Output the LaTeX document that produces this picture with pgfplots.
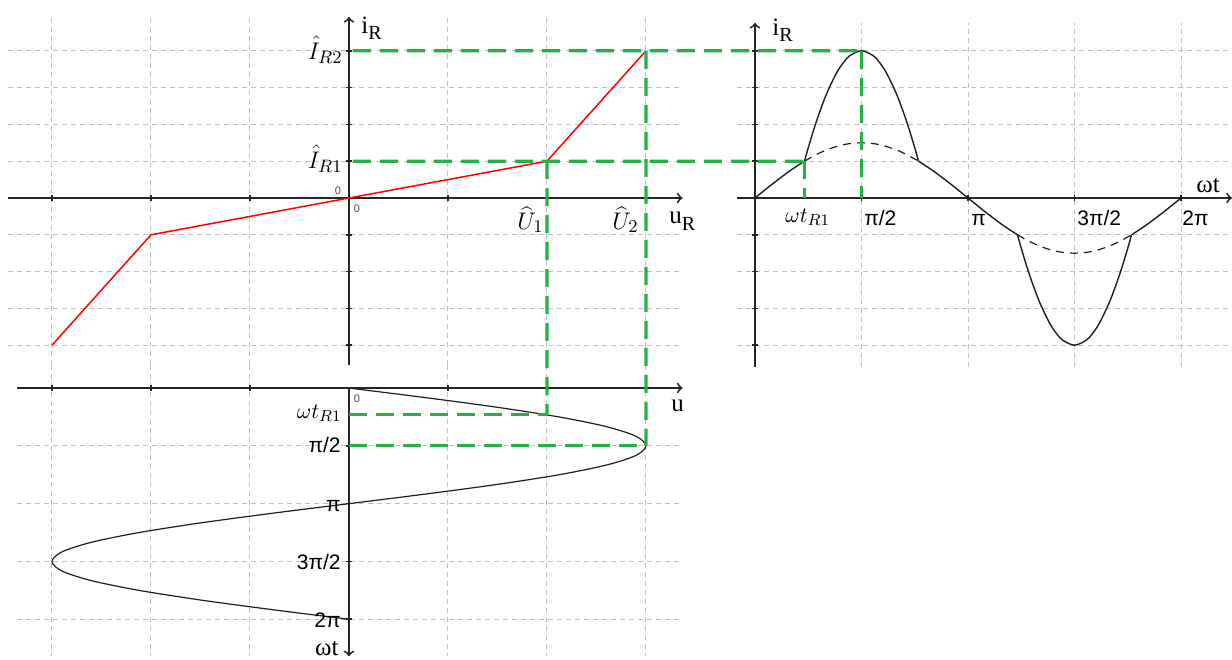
\documentclass[border=0pt]{standalone}
\usepackage{fontspec}
\setmainfont{Liberation Serif}
\setsansfont{Liberation Sans}
\usepackage{pgfplots}
\pgfplotsset{compat=1.18}

\definecolor{ggreen}{RGB}{38,176,72}
\definecolor{gridgray}{RGB}{192,192,192}
\definecolor{curve}{RGB}{30,30,30}

\pgfplotsset{
  panel/.style={
    axis lines=middle,
    enlargelimits=false,
    axis line style={->, line width=0.95pt, black!85},
    xticklabels={}, yticklabels={},
    tick align=center, major tick length=3pt,
    tick style={line width=0.8pt, black!85},
    grid=major,
    major grid style={gridgray, line width=0.5pt, dash pattern=on 2.5pt off 2pt},
    clip=false,
  },
}

\begin{document}
\begin{tikzpicture}
\useasboundingbox (0,0) rectangle (616pt,-329.5pt);

% characteristic i_R(u_R)
\begin{axis}[panel, at={(172.75pt,-95.5pt)}, anchor=center,
    x=49.5pt, y=18.4pt,
    xmin=-3.44, xmax=3.37, ymin=-4.54, ymax=4.92,
    xtick={-3,-2,-1,1,2,3}, ytick={-4,-3,-2,-1,1,2,3,4}]
  \addplot[red, line width=0.75pt] coordinates {
    (-3,-4) (-2,-1) (0,0) (2,1) (3,4)};
  \coordinate (L4) at (axis cs:0.04,4);
  \coordinate (L1) at (axis cs:0.04,1);
  \coordinate (U1) at (axis cs:2,1);
  \coordinate (U2) at (axis cs:3,4);
\end{axis}

% i_R(wt)
\begin{axis}[panel, at={(492.25pt,-97.43pt)}, anchor=center,
    x=33.9pt, y=18.4pt,
    xmin=-0.265, xmax=7.035, ymin=-4.59, ymax=4.76,
    xtick={1.5708,3.1416,4.7124,6.2832}, ytick={-4,-3,-2,-1,1,2,3,4}]
  \addplot[curve, line width=0.7pt, smooth] coordinates {
    (0,0) (0.2618,0.3882) (0.5236,0.75) (0.7297,1.0)};
  \addplot[curve, line width=0.7pt, smooth] coordinates {
    (0.7297,1.0) (0.7854,1.364) (0.9,2.050) (1.0472,2.794) (1.2,3.388)
    (1.309,3.693) (1.4,3.869) (1.5708,4.0) (1.7416,3.869) (1.8326,3.693)
    (1.9416,3.388) (2.0944,2.794) (2.2416,2.050) (2.3562,1.364) (2.4119,1.0)};
  \addplot[curve, line width=0.7pt, smooth] coordinates {
    (2.4119,1.0) (2.618,0.75) (2.8798,0.3882) (3.1416,0) (3.4034,-0.3882)
    (3.6652,-0.75) (3.8713,-1.0)};
  \addplot[curve, line width=0.7pt, smooth] coordinates {
    (3.8713,-1.0) (3.9270,-1.364) (4.0416,-2.050) (4.1888,-2.794) (4.3416,-3.388)
    (4.4506,-3.693) (4.5416,-3.869) (4.7124,-4.0) (4.8832,-3.869) (4.9742,-3.693)
    (5.0832,-3.388) (5.2360,-2.794) (5.3832,-2.050) (5.4978,-1.364) (5.5535,-1.0)};
  \addplot[curve, line width=0.7pt, smooth] coordinates {
    (5.5535,-1.0) (5.7596,-0.75) (6.0214,-0.3882) (6.2832,0)};
  % linear continuation (dashed)
  \addplot[curve, line width=0.6pt, smooth, dash pattern=on 4pt off 3pt] coordinates {
    (0.7297,1.0) (0.9,1.175) (1.0472,1.299) (1.2,1.398) (1.309,1.449) (1.4,1.478)
    (1.5708,1.5) (1.7416,1.478) (1.8326,1.449) (1.9416,1.398) (2.0944,1.299)
    (2.2416,1.175) (2.4119,1.0)};
  \addplot[curve, line width=0.6pt, smooth, dash pattern=on 4pt off 3pt] coordinates {
    (3.8713,-1.0) (4.0416,-1.175) (4.1888,-1.299) (4.3416,-1.398) (4.4506,-1.449)
    (4.5416,-1.478) (4.7124,-1.5) (4.8832,-1.478) (4.9742,-1.449) (5.0832,-1.398)
    (5.2360,-1.299) (5.3832,-1.175) (5.5535,-1.0)};
  \coordinate (RP) at (axis cs:1.5708,4);
  \coordinate (RP0) at (axis cs:1.5708,0);
  \coordinate (RT) at (axis cs:0.7297,1);
  \coordinate (RT0) at (axis cs:0.7297,0);
\end{axis}

% u(wt), time running downwards
\begin{axis}[panel, at={(174.98pt,-255.38pt)}, anchor=center,
    x=49.5pt, y=18.4pt, y dir=reverse,
    y axis line style={draw=none},
    xmin=-3.35, xmax=3.37, ymin=-0.62, ymax=7.29,
    xtick={-3,-2,-1,1,2,3}, ytick={1.5708,3.1416,4.7124,6.2832}]
  \draw[->, line width=0.95pt, black!85] (axis cs:0,0) -- (axis cs:0,7.29);
  \addplot[curve, line width=0.6pt, smooth] coordinates {
    (0,0) (0.7765,0.2618) (1.5,0.5236) (2.1213,0.7854) (2.5981,1.0472)
    (2.8978,1.3090) (3,1.5708) (2.8978,1.8326) (2.5981,2.0944) (2.1213,2.3562)
    (1.5,2.6180) (0.7765,2.8798) (0,3.1416) (-0.7765,3.4034) (-1.5,3.6652)
    (-2.1213,3.9270) (-2.5981,4.1888) (-2.8978,4.4506) (-3,4.7124)
    (-2.8978,4.9742) (-2.5981,5.2360) (-2.1213,5.4978) (-1.5,5.7596)
    (-0.7765,6.0214) (0,6.2832)};
  \coordinate (B1) at (axis cs:2,0.7297);
  \coordinate (B10) at (axis cs:0,0.7297);
  \coordinate (B2) at (axis cs:3,1.5708);
  \coordinate (B20) at (axis cs:0,1.5708);
\end{axis}

% projection lines
\begin{scope}[ggreen, line width=1.6pt, dash pattern=on 9pt off 4.5pt]
  \draw (L4) -- (RP);
  \draw (RP) -- (RP0);
  \draw (L1) -- (RT);
  \draw (RT) -- (RT0);
  \draw (U1) -- (B1);
  \draw (U2) -- (B2);
  \draw (B10) -- (B1);
  \draw (B20) -- (B2);
\end{scope}

% labels (pixel grid of the reference)
\begin{scope}[x=0.5pt, y=-0.5pt]
  \tikzset{lbl/.style={inner sep=0pt, font=\fontsize{11}{13}\selectfont},
           big/.style={inner sep=0pt, font=\fontsize{12.5}{14}\selectfont},
           sub/.style={inner sep=0pt, font=\fontsize{12.5}{14}\selectfont},
           pil/.style={inner sep=0pt, font=\sffamily\fontsize{10.5}{12}\selectfont},
           zer/.style={inner sep=0pt, font=\sffamily\fontsize{5.5}{6}\selectfont, black!70}}
  \node[sub, anchor=base west] at (361,33) {i\raisebox{-3pt}{\fontsize{10}{11}\selectfont R}};
  \node[sub, anchor=base west] at (772,35) {i\raisebox{-3pt}{\fontsize{10}{11}\selectfont R}};
  \node[sub, anchor=base west] at (669,223) {u\raisebox{-3.5pt}{\fontsize{10}{11}\selectfont R}};
  \node[big, anchor=base east] at (343,59) {$\hat{I}_{R2}$};
  \node[big, anchor=base east] at (343,168) {$\hat{I}_{R1}$};
  \node[big, anchor=base west] at (517,229) {$\widehat{U}_1$};
  \node[big, anchor=base west] at (612,229) {$\widehat{U}_2$};
  \node[big, anchor=base west] at (1196,192) {ωt};
  \node[big, anchor=base west] at (671,411) {u};
  \node[big, anchor=base east] at (339,655) {ωt};
  \node[lbl, anchor=base west] at (785,222) {$\omega t_{R1}$};
  \node[lbl, anchor=base east] at (342,418) {$\omega t_{R1}$};
  \node[pil, anchor=base west] at (864,225) {π/2};
  \node[pil, anchor=base west] at (971,225) {π};
  \node[pil, anchor=base west] at (1077,225) {3π/2};
  \node[pil, anchor=base west] at (1182,225) {2π};
  \node[pil, anchor=base east] at (341,452) {π/2};
  \node[pil, anchor=base east] at (341,511) {π};
  \node[pil, anchor=base east] at (341,569) {3π/2};
  \node[pil, anchor=base east] at (341,627) {2π};
  \node[zer] at (338,191) {0};
  \node[zer] at (357,209) {0};
  \node[zer] at (357,399) {0};
\end{scope}
\end{tikzpicture}
\end{document}
